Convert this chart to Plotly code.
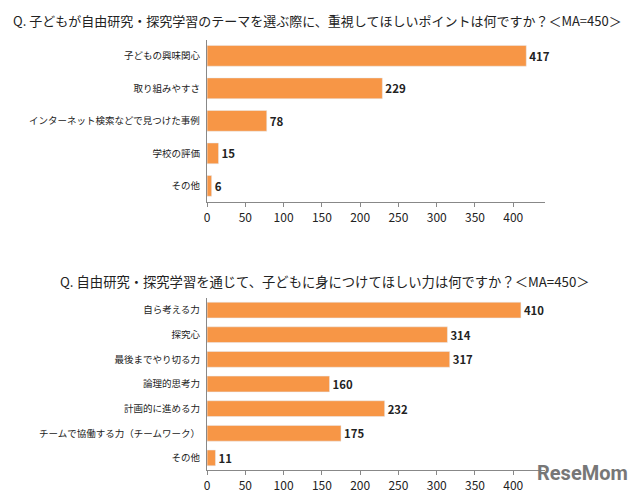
import plotly.graph_objects as go

cats1 = ["子どもの興味関心", "取り組みやすさ", "インターネット検索などで見つけた事例", "学校の評価", "その他"]
vals1 = [417, 229, 78, 15, 6]
cats2 = ["自ら考える力", "探究心", "最後までやり切る力", "論理的思考力", "計画的に進める力", "チームで協働する力（チームワーク）", "その他"]
vals2 = [410, 314, 317, 160, 232, 175, 11]
title1 = "Q. 子どもが自由研究・探究学習のテーマを選ぶ際に、重視してほしいポイントは何ですか？＜MA=450＞"
title2 = "Q. 自由研究・探究学習を通じて、子どもに身につけてほしい力は何ですか？＜MA=450＞"

C = "#F79646"
F = "Noto Sans CJK JP"
W, H = 624, 485
fig = go.Figure()
for v, c, xa_, ya_ in [(vals1, cats1, "x", "y"), (vals2, cats2, "x2", "y2")]:
    fig.add_bar(x=v, y=c, orientation="h", marker_color=C, width=0.64,
                texttemplate="<b>%{x}</b>", textposition="outside",
                textfont=dict(size=11.5, color="#222"),
                xaxis=xa_, yaxis=ya_, cliponaxis=False)

xa = dict(range=[0, 442], tickvals=[0, 50, 100, 150, 200, 250, 300, 350, 400],
          showline=True, linecolor="#888", ticks="outside", ticklen=4, tickcolor="#888",
          showgrid=False, zeroline=False, tickfont=dict(size=12, color="#222"))
ya = dict(autorange="reversed", showline=True, linecolor="#888", showgrid=False,
          ticks="", tickfont=dict(size=9.5, color="#222"), ticksuffix="  ")
fig.update_layout(
    width=W, height=H, margin=dict(l=0, r=0, t=0, b=0),
    paper_bgcolor="white", plot_bgcolor="white", showlegend=False,
    font=dict(family=F),
    xaxis=dict(domain=[197/W, 537/W], anchor="y", **xa),
    yaxis=dict(domain=[1-197/H, 1-32/H], anchor="x", **ya),
    xaxis2=dict(domain=[197/W, 537/W], anchor="y2", **xa),
    yaxis2=dict(domain=[1-469/H, 1-294/H], anchor="x2", **ya),
    annotations=[
        dict(text=title1, x=0, y=1-1/H, xref="paper", yref="paper", xanchor="left",
             yanchor="top", showarrow=False, font=dict(size=13, color="#222")),
        dict(text=title2, x=47/W, y=1-277/H, xref="paper", yref="paper", xanchor="left",
             yanchor="middle", showarrow=False, font=dict(size=13.3, color="#222")),
        dict(text="<b>ReseMom</b>", x=622/W, y=1-472/H, xref="paper", yref="paper", xanchor="right",
             yanchor="middle", showarrow=False, font=dict(size=20, color="#777", family="Roboto")),
    ],
)
fig.write_html("out.html")
